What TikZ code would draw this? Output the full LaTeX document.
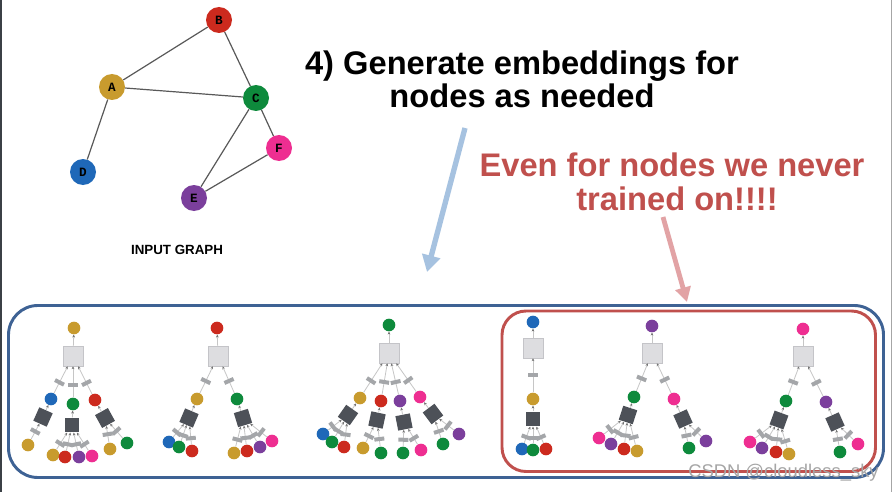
\documentclass[tikz,border=0pt]{standalone}
\usepackage{fontspec}
\setmainfont{Liberation Sans}
\newfontfamily\monob{Liberation Mono}
\usetikzlibrary{arrows.meta,calc}
\definecolor{cA}{HTML}{C89B2E}
\definecolor{cB}{HTML}{CC2A1E}
\definecolor{cC}{HTML}{0E8A3C}
\definecolor{cD}{HTML}{1F68B8}
\definecolor{cE}{HTML}{7B3F9C}
\definecolor{cF}{HTML}{EE2E91}
\definecolor{aggfill}{HTML}{DDDDE0}
\definecolor{aggdraw}{HTML}{C4C4C8}
\definecolor{dsqc}{HTML}{4D5158}
\definecolor{tagc}{HTML}{A4A6A9}
\definecolor{edgec}{HTML}{C6C6C6}
\definecolor{boxblue}{HTML}{3E6294}
\definecolor{boxred}{HTML}{C0504D}
\definecolor{arrblue}{HTML}{A6C2E0}
\definecolor{arrred}{HTML}{E2A3A5}
\definecolor{frameL}{HTML}{3B4046}
\tikzset{
 gn/.style={circle, minimum size=19.5pt, inner sep=0pt, font=\monob\bfseries\fontsize{9.5}{9.5}\selectfont},
 ge/.style={draw=black!65, line width=0.9pt},
 nd/.style={circle, minimum size=9.5pt, inner sep=0pt},
 agg/.style={rectangle, minimum size=15pt, inner sep=0pt, fill=aggfill, draw=aggdraw, line width=0.4pt},
 dsq/.style={rectangle, minimum size=11pt, inner sep=0pt, fill=dsqc},
 tg/.style={rectangle, minimum width=7.5pt, minimum height=3pt, inner sep=0pt, fill=tagc},
 te/.style={draw=edgec, line width=0.6pt, -{Stealth[length=2.2pt,width=2pt,color=black!55]}},
 bigtxt/.style={font=\bfseries\fontsize{24.5}{26}\selectfont, inner sep=0pt, anchor=base},
}
\newcommand\tagln[3][.5]{\draw[te] let \p1=($(#3)-(#2)$), \n1={atan2(\y1,\x1)-90} in (#2) -- node[tg,pos=#1,rotate=\n1] (tag-#2-#3) {} (#3);}
\begin{document}
\begin{tikzpicture}[x=0.75pt,y=-0.75pt]
\useasboundingbox (0,0) rectangle (893,492);
\fill[white] (0,0) rectangle (893,492);
\draw[frameL, line width=1.5pt] (1,0) -- (1,492);
\draw[black!35, line width=0.75pt] (891.5,0) -- (891.5,492);

% input graph
\node[gn,fill=cA] (A) at (112,87) {A};
\node[gn,fill=cB] (B) at (219,20) {B};
\node[gn,fill=cC] (C) at (256,98) {C};
\node[gn,fill=cD] (D) at (83,172) {D};
\node[gn,fill=cE] (E) at (194,198) {E};
\node[gn,fill=cF] (F) at (279,148) {F};
\draw[ge] (A) -- (B); \draw[ge] (A) -- (C); \draw[ge] (B) -- (C);
\draw[ge] (A) -- (D); \draw[ge] (C) -- (E); \draw[ge] (C) -- (F); \draw[ge] (E) -- (F);
\node[font=\bfseries\fontsize{10}{10}\selectfont, anchor=base, inner sep=0pt] (ig) at (177,254) {INPUT GRAPH};

% titles
\node[bigtxt] (t1) at (522,75) {4) Generate embeddings for};
\node[bigtxt] (t2) at (522,108) {nodes as needed};
\node[bigtxt, text=boxred] (r1) at (672,176) {Even for nodes we never};
\node[bigtxt, text=boxred] (r2) at (677,210) {trained on!!!!};

% arrows
\coordinate (bt) at (465,128); \coordinate (bh) at (427,272);
\coordinate (rt) at (663,217); \coordinate (rh) at (687,302);
\draw[arrblue, line width=4pt, -{Triangle[length=12.5pt,width=13.5pt]}] (bt) -- (bh);
\draw[arrred, line width=3.6pt, -{Triangle[length=11pt,width=11.5pt]}] (rt) -- (rh);

% boxes
\draw[boxblue, line width=2.2pt, rounded corners=22pt] (8.5,305.5) rectangle (883.5,477.5);
\draw[boxred, line width=2.2pt, rounded corners=18pt] (502,311) rectangle (875.5,471.5);

% ---------- tree 1 (A)
\node[agg] (t1a) at (73,356) {};
\node[nd,fill=cA] (t1r) at (74,328) {};
\node[nd,fill=cD] (t1c1) at (51,399) {};
\node[nd,fill=cC] (t1c2) at (73,404) {};
\node[nd,fill=cB] (t1c3) at (95,400) {};
\node[dsq,rotate=-24] (t1d1) at (43,417) {};
\node[dsq] (t1d2) at (72,425) {};
\node[dsq,rotate=29] (t1d3) at (105,418) {};
\node[nd,fill=cA] (t1g1) at (28,445) {};
\node[nd,fill=cA] (t1g2) at (53,455) {};
\node[nd,fill=cB] (t1g3) at (65,457) {};
\node[nd,fill=cE] (t1g4) at (79,457) {};
\node[nd,fill=cF] (t1g5) at (92,456) {};
\node[nd,fill=cA] (t1g6) at (110,449) {};
\node[nd,fill=cC] (t1g7) at (127,443) {};
\draw[te] (t1a) -- (t1r);
\tagln[.4]{t1c1}{t1a} \tagln[.4]{t1c2}{t1a} \tagln[.4]{t1c3}{t1a}
\draw[te] (t1d1) -- (t1c1); \draw[te] (t1d2) -- (t1c2); \draw[te] (t1d3) -- (t1c3);
\tagln{t1g1}{t1d1}
\tagln[.35]{t1g2}{t1d2} \tagln[.35]{t1g3}{t1d2} \tagln[.35]{t1g4}{t1d2} \tagln[.35]{t1g5}{t1d2}
\tagln{t1g6}{t1d3} \tagln{t1g7}{t1d3}

% ---------- tree 2 (B)
\node[agg] (t2a) at (218,356) {};
\node[nd,fill=cB] (t2r) at (217,328) {};
\node[nd,fill=cA] (t2c1) at (197,399) {};
\node[nd,fill=cC] (t2c2) at (237,399) {};
\node[dsq,rotate=-23] (t2d1) at (189,418) {};
\node[dsq,rotate=17] (t2d2) at (243,418) {};
\node[nd,fill=cD] (t2g1) at (169,442) {};
\node[nd,fill=cC] (t2g2) at (179,447) {};
\node[nd,fill=cB] (t2g3) at (192,451) {};
\node[nd,fill=cA] (t2g4) at (234,453) {};
\node[nd,fill=cB] (t2g5) at (247,451) {};
\node[nd,fill=cE] (t2g6) at (260,447) {};
\node[nd,fill=cF] (t2g7) at (272,441) {};
\draw[te] (t2a) -- (t2r);
\tagln[.45]{t2c1}{t2a} \tagln[.45]{t2c2}{t2a}
\draw[te] (t2d1) -- (t2c1); \draw[te] (t2d2) -- (t2c2);
\tagln[.35]{t2g1}{t2d1} \tagln[.35]{t2g2}{t2d1} \tagln[.35]{t2g3}{t2d1}
\tagln[.35]{t2g4}{t2d2} \tagln[.35]{t2g5}{t2d2} \tagln[.35]{t2g6}{t2d2} \tagln[.35]{t2g7}{t2d2}

% ---------- tree 3 (C)
\node[agg] (t3a) at (389,353) {};
\node[nd,fill=cC] (t3r) at (389,325) {};
\node[nd,fill=cA] (t3c1) at (360,398) {};
\node[nd,fill=cB] (t3c2) at (381,401) {};
\node[nd,fill=cE] (t3c3) at (400,401) {};
\node[nd,fill=cF] (t3c4) at (420,397) {};
\node[dsq,rotate=-35] (t3d1) at (348,415) {};
\node[dsq,rotate=-12] (t3d2) at (377,420) {};
\node[dsq,rotate=11] (t3d3) at (404,422) {};
\node[dsq,rotate=37] (t3d4) at (433,414) {};
\node[nd,fill=cD] (t3g1) at (323,434) {};
\node[nd,fill=cC] (t3g2) at (332,442) {};
\node[nd,fill=cB] (t3g3) at (344,447) {};
\node[nd,fill=cA] (t3g4) at (363,448) {};
\node[nd,fill=cC] (t3g5) at (381,453) {};
\node[nd,fill=cC] (t3g6) at (403,453) {};
\node[nd,fill=cF] (t3g7) at (421,450) {};
\node[nd,fill=cC] (t3g8) at (443,444) {};
\node[nd,fill=cE] (t3g9) at (459,434) {};
\draw[te] (t3a) -- (t3r);
\tagln[.4]{t3c1}{t3a} \tagln[.4]{t3c2}{t3a} \tagln[.4]{t3c3}{t3a} \tagln[.4]{t3c4}{t3a}
\draw[te] (t3d1) -- (t3c1); \draw[te] (t3d2) -- (t3c2); \draw[te] (t3d3) -- (t3c3); \draw[te] (t3d4) -- (t3c4);
\tagln[.35]{t3g1}{t3d1} \tagln[.35]{t3g2}{t3d1} \tagln[.35]{t3g3}{t3d1}
\tagln[.4]{t3g4}{t3d2} \tagln[.4]{t3g5}{t3d2}
\tagln[.4]{t3g6}{t3d3} \tagln[.4]{t3g7}{t3d3}
\tagln[.4]{t3g8}{t3d4} \tagln[.4]{t3g9}{t3d4}

% ---------- tree 4 (D)
\node[agg] (t4a) at (533,348) {};
\node[nd,fill=cD] (t4r) at (533,322) {};
\node[nd,fill=cA] (t4c1) at (533,399) {};
\node[dsq] (t4d1) at (533,419) {};
\node[nd,fill=cD] (t4g1) at (522,449) {};
\node[nd,fill=cC] (t4g2) at (533,450) {};
\node[nd,fill=cB] (t4g3) at (546,449) {};
\draw[te] (t4a) -- (t4r);
\tagln{t4c1}{t4a}
\draw[te] (t4d1) -- (t4c1);
\tagln[.35]{t4g1}{t4d1} \tagln[.35]{t4g2}{t4d1} \tagln[.35]{t4g3}{t4d1}

% ---------- tree 5 (E)
\node[agg] (t5a) at (652,353) {};
\node[nd,fill=cE] (t5r) at (652,326) {};
\node[nd,fill=cC] (t5c1) at (634,397) {};
\node[nd,fill=cF] (t5c2) at (674,399) {};
\node[dsq,rotate=-18] (t5d1) at (628,415) {};
\node[dsq,rotate=24] (t5d2) at (683,419) {};
\node[nd,fill=cF] (t5g1) at (599,438) {};
\node[nd,fill=cE] (t5g2) at (611,444) {};
\node[nd,fill=cB] (t5g3) at (624,449) {};
\node[nd,fill=cA] (t5g4) at (637,451) {};
\node[nd,fill=cC] (t5g5) at (689,448) {};
\node[nd,fill=cE] (t5g6) at (706,441) {};
\draw[te] (t5a) -- (t5r);
\tagln[.45]{t5c1}{t5a} \tagln[.45]{t5c2}{t5a}
\draw[te] (t5d1) -- (t5c1); \draw[te] (t5d2) -- (t5c2);
\tagln[.35]{t5g1}{t5d1} \tagln[.35]{t5g2}{t5d1} \tagln[.35]{t5g3}{t5d1} \tagln[.35]{t5g4}{t5d1}
\tagln[.4]{t5g5}{t5d2} \tagln[.4]{t5g6}{t5d2}

% ---------- tree 6 (F)
\node[agg] (t6a) at (803,356) {};
\node[nd,fill=cF] (t6r) at (803,329) {};
\node[nd,fill=cC] (t6c1) at (786,401) {};
\node[nd,fill=cE] (t6c2) at (826,402) {};
\node[dsq,rotate=-20] (t6d1) at (779,420) {};
\node[dsq,rotate=24] (t6d2) at (835,422) {};
\node[nd,fill=cF] (t6g1) at (750,442) {};
\node[nd,fill=cE] (t6g2) at (762,448) {};
\node[nd,fill=cB] (t6g3) at (776,452) {};
\node[nd,fill=cA] (t6g4) at (789,454) {};
\node[nd,fill=cC] (t6g5) at (840,452) {};
\node[nd,fill=cF] (t6g6) at (858,444) {};
\draw[te] (t6a) -- (t6r);
\tagln[.45]{t6c1}{t6a} \tagln[.45]{t6c2}{t6a}
\draw[te] (t6d1) -- (t6c1); \draw[te] (t6d2) -- (t6c2);
\tagln[.35]{t6g1}{t6d1} \tagln[.35]{t6g2}{t6d1} \tagln[.35]{t6g3}{t6d1} \tagln[.35]{t6g4}{t6d1}
\tagln[.4]{t6g5}{t6d2} \tagln[.4]{t6g6}{t6d2}

% watermark
\node[anchor=base west, inner sep=0pt, text=black!35, font=\fontsize{13.8}{14}\selectfont] (wm) at (688,477) {CSDN @cloudless\_sky};
\end{tikzpicture}
\end{document}
